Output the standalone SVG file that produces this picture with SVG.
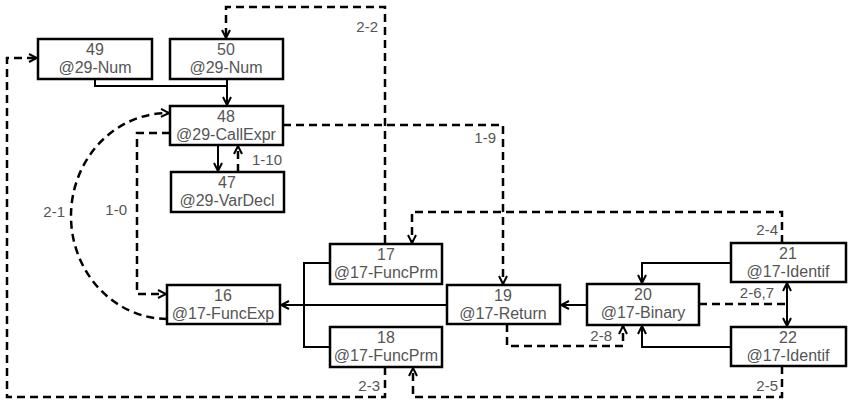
<svg xmlns="http://www.w3.org/2000/svg" width="854" height="408" viewBox="0 0 854 408">
<style>
.box{fill:#fff;stroke:#000;stroke-width:2.5}
.nt{font-family:"Liberation Sans",Arial,sans-serif;font-size:16px;fill:#555;text-anchor:middle}
.lb{font-family:"Liberation Sans",Arial,sans-serif;font-size:15px;fill:#555}
.s{fill:none;stroke:#000;stroke-width:2}
.d{fill:none;stroke:#000;stroke-width:2.5;stroke-dasharray:8 5}
.a{marker-end:url(#ah)}
</style>
<defs>
<marker id="ah" viewBox="0 0 10 10" refX="9" refY="5" markerWidth="10" markerHeight="10" markerUnits="userSpaceOnUse" orient="auto">
<path d="M1,1 L9,5 L1,9" fill="none" stroke="#000" stroke-width="2"/>
</marker>
</defs>
<g id="connectors">
<path class="s" d="M95,79 V86 H227"/>
<path class="s a" d="M227,79 V105"/>
<path class="s a" d="M218,145 V171"/>
<path class="d a" d="M238,172 V146"/>
<path class="d a" d="M385,243 V7 H226 V38"/>
<path class="d a" d="M283,125 H503 V284"/>
<path class="d a" d="M170,133 H137 V294 H166"/>
<path class="d a" d="M167,319 A97,103 0 0 1 169,113"/>
<path class="d a" d="M385,367 V397 H7 V58 H37"/>
<path class="d a" d="M782,243 V212 H412 V243"/>
<path class="d a" d="M782,366 V397 H413 V368"/>
<path class="d" d="M699,304 H787"/>
<path class="s a" d="M787,304 V283"/>
<path class="s a" d="M787,304 V326"/>
<path class="d a" d="M507,324 V346 H623 V326"/>
<path class="s a" d="M447,305 H281"/>
<path class="s" d="M330,263 H304 V347 H330"/>
<path class="s a" d="M587,305 H561"/>
<path class="s a" d="M731,263 H642 V283"/>
<path class="s a" d="M731,347 H642 V326"/>
<text class="lb" x="378" y="32" text-anchor="end">2-2</text>
<text class="lb" x="496" y="143" text-anchor="end">1-9</text>
<text class="lb" x="252" y="165">1-10</text>
<text class="lb" x="127" y="215" text-anchor="end">1-0</text>
<text class="lb" x="65" y="217" text-anchor="end">2-1</text>
<text class="lb" x="778" y="235" text-anchor="end">2-4</text>
<text class="lb" x="774" y="298" text-anchor="end">2-6,7</text>
<text class="lb" x="612" y="341" text-anchor="end">2-8</text>
<text class="lb" x="778" y="391" text-anchor="end">2-5</text>
<text class="lb" x="380" y="391" text-anchor="end">2-3</text>
</g>
<g id="n49"><rect class="box" x="38" y="39" width="114" height="40"/><text class="nt" x="95" y="55">49</text><text class="nt" x="95" y="73">@29-Num</text></g>
<g id="n50"><rect class="box" x="170" y="39" width="113" height="40"/><text class="nt" x="226" y="55">50</text><text class="nt" x="226" y="73">@29-Num</text></g>
<g id="n48"><rect class="box" x="170" y="106" width="113" height="39"/><text class="nt" x="226" y="122">48</text><text class="nt" x="226" y="140">@29-CallExpr</text></g>
<g id="n47"><rect class="box" x="171" y="172" width="113" height="40"/><text class="nt" x="227" y="188">47</text><text class="nt" x="227" y="206">@29-VarDecl</text></g>
<g id="n16"><rect class="box" x="167" y="285" width="113" height="39"/><text class="nt" x="223" y="301">16</text><text class="nt" x="223" y="319">@17-FuncExp</text></g>
<g id="n17"><rect class="box" x="330" y="244" width="112" height="40"/><text class="nt" x="386" y="260">17</text><text class="nt" x="386" y="278">@17-FuncPrm</text></g>
<g id="n18"><rect class="box" x="330" y="327" width="112" height="40"/><text class="nt" x="386" y="343">18</text><text class="nt" x="386" y="361">@17-FuncPrm</text></g>
<g id="n19"><rect class="box" x="447" y="285" width="113" height="39"/><text class="nt" x="503" y="301">19</text><text class="nt" x="503" y="319">@17-Return</text></g>
<g id="n20"><rect class="box" x="587" y="284" width="112" height="41"/><text class="nt" x="643" y="300">20</text><text class="nt" x="643" y="318">@17-Binary</text></g>
<g id="n21"><rect class="box" x="731" y="243" width="115" height="39"/><text class="nt" x="788" y="259">21</text><text class="nt" x="788" y="277">@17-Identif</text></g>
<g id="n22"><rect class="box" x="731" y="327" width="115" height="39"/><text class="nt" x="788" y="343">22</text><text class="nt" x="788" y="361">@17-Identif</text></g>
</svg>
